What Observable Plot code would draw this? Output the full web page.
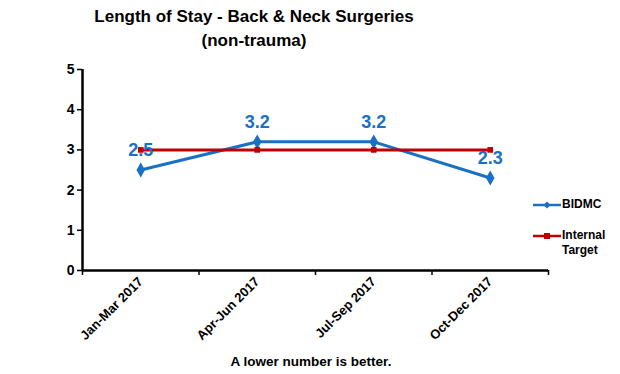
<!DOCTYPE html>
<html><head><meta charset="utf-8">
<script src="https://cdn.jsdelivr.net/npm/d3@7"></script>
<script src="https://cdn.jsdelivr.net/npm/@observablehq/plot@0.6"></script>
<style>
body{margin:0;background:#fff;font-family:"Liberation Sans",Arial,sans-serif;}
#wrap{position:relative;width:620px;height:374px;}
.t{position:absolute;font-weight:bold;color:#000;white-space:nowrap;}
</style></head>
<body><div id="wrap"></div>
<script>
const categories = ["Jan-Mar 2017","Apr-Jun 2017","Jul-Sep 2017","Oct-Dec 2017"];
const bidmc = [2.5, 3.2, 3.2, 2.3];
const target = [3, 3, 3, 3];
const yTicks = [0,1,2,3,4,5];

const blue = "#1a70c4", red = "#c00000";
const dataB = categories.map((c,i)=>({x:i+0.5, y:bidmc[i], c}));
const dataT = categories.map((c,i)=>({x:i+0.5, y:target[i], c}));

const chart = Plot.plot({
  width:620, height:374,
  marginLeft:82, marginRight:72, marginTop:69, marginBottom:104,
  style:{fontFamily:"Liberation Sans, Arial, sans-serif", background:"#fff"},
  x:{domain:[0,categories.length], label:null},
  y:{domain:[0,5], label:null},
  marks:[
    Plot.axisY({ticks:yTicks, tickSize:5, tickPadding:3, fontSize:14, fontWeight:"bold", tickFormat:d=>d, strokeWidth:1.5, color:"#000", label:null}),
    Plot.axisX({ticks:d3.range(categories.length+1), tickSize:5, tickFormat:()=>"", strokeWidth:1.5, label:null}),
    Plot.axisX({ticks:categories.map((c,i)=>i+0.5), tickSize:0, tickPadding:9, tickRotate:-45, fontSize:13, fontWeight:"bold", tickFormat:d=>categories[Math.round(d-0.5)], color:"#000", label:null}),
    Plot.ruleX([0],{y1:0,y2:5,stroke:"#000",strokeWidth:2.5}),
    Plot.ruleY([0],{x1:0,x2:categories.length,stroke:"#000",strokeWidth:2.5}),
    Plot.line(dataB,{x:"x",y:"y",stroke:blue,strokeWidth:3}),
    Plot.dot(dataB,{x:"x",y:"y",symbol:"diamond",r:4.5,fill:blue}),
    Plot.line(dataT,{x:"x",y:"y",stroke:red,strokeWidth:3}),
    Plot.dot(dataT,{x:"x",y:"y",symbol:"square",r:3.2,fill:red}),
    Plot.text(dataB,{x:"x",y:"y",text:d=>d.y.toFixed(1),dy:-20,fill:blue,fontSize:18,fontWeight:"bold"})
  ]
});
const wrap = document.getElementById("wrap");
wrap.appendChild(chart);
function add(html, style){const d=document.createElement("div");d.className="t";d.innerHTML=html;Object.assign(d.style,style);wrap.appendChild(d);}
add("Length of Stay - Back &amp; Neck Surgeries",{left:"0",width:"508px",textAlign:"center",top:"7px",fontSize:"17px"});
add("(non-trauma)",{left:"0",width:"508px",textAlign:"center",top:"31px",fontSize:"17px"});
add("A lower number is better.",{left:"0",width:"622px",textAlign:"center",top:"354px",fontSize:"13.5px"});
// legend
function leg(color, sym, top, label){
  const s = `<svg width="30" height="8" style="display:block"><line x1="0" y1="4" x2="28" y2="4" stroke="${color}" stroke-width="2.5"/>${sym}</svg>`;
  add(s,{left:"533px",top:top+"px"});
  add(label,{left:"562px",top:(top-4)+"px",fontSize:"12px",lineHeight:"15px"});
}
leg(blue,`<path d="M14 0.5L17.5 4L14 7.5L10.5 4Z" fill="${blue}"/>`,201,"BIDMC");
leg(red,`<rect x="11" y="1" width="6" height="6" fill="${red}"/>`,232,"Internal<br>Target");
</script></body></html>
